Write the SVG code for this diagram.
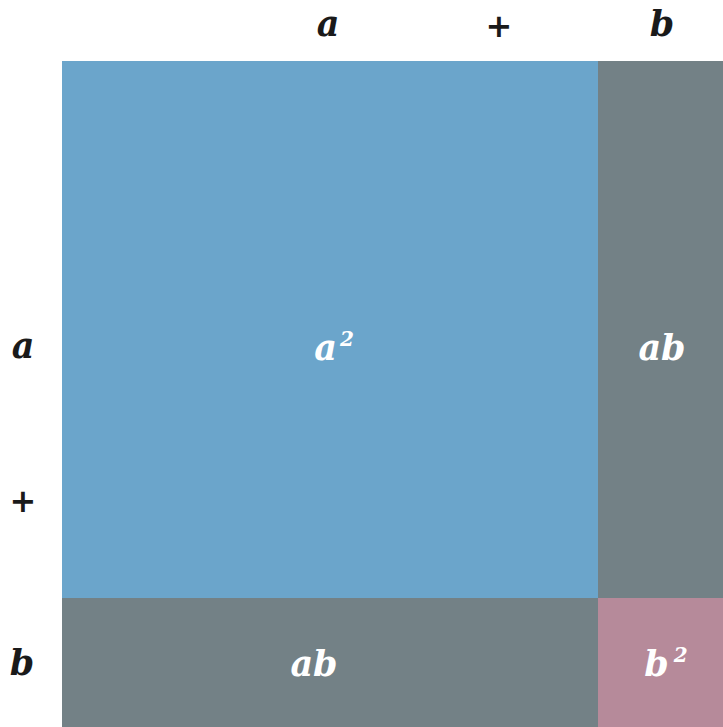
<svg xmlns="http://www.w3.org/2000/svg" width="723" height="727" viewBox="0 0 723 727">
<style>
.v{font-family:"DejaVu Serif","Liberation Serif",serif;font-weight:900;font-style:italic;font-size:35px;text-anchor:middle}
.p{font-family:"DejaVu Sans","Liberation Sans",sans-serif;font-weight:bold;font-size:32px;text-anchor:middle;fill:#1a1a1a}
.dk{fill:#1a1a1a}
.wt{fill:#ffffff}
.sup{font-size:20px}
</style>
<rect width="723" height="727" fill="#ffffff"/>
<g id="a2"><rect x="62" y="61" width="536" height="537" fill="#6BA5CB"/><text class="v wt" x="334" y="360">a<tspan class="sup" dy="-14" dx="3">2</tspan></text></g>
<g id="ab-right"><rect x="598" y="61" width="125" height="537" fill="#738186"/><text class="v wt" x="662" y="360">ab</text></g>
<g id="ab-bottom"><rect x="62" y="598" width="536" height="129" fill="#738186"/><text class="v wt" x="314" y="676">ab</text></g>
<g id="b2"><rect x="598" y="598" width="125" height="129" fill="#B68A9A"/><text class="v wt" x="666" y="676">b<tspan class="sup" dy="-14" dx="5">2</tspan></text></g>
<g id="labels">
<text class="v dk" x="328" y="36">a</text>
<text class="p" x="499" y="37">+</text>
<text class="v dk" x="662" y="36">b</text>
<text class="v dk" x="23" y="358">a</text>
<text class="p" x="23" y="512">+</text>
<text class="v dk" x="22" y="675">b</text>
</g>
</svg>
